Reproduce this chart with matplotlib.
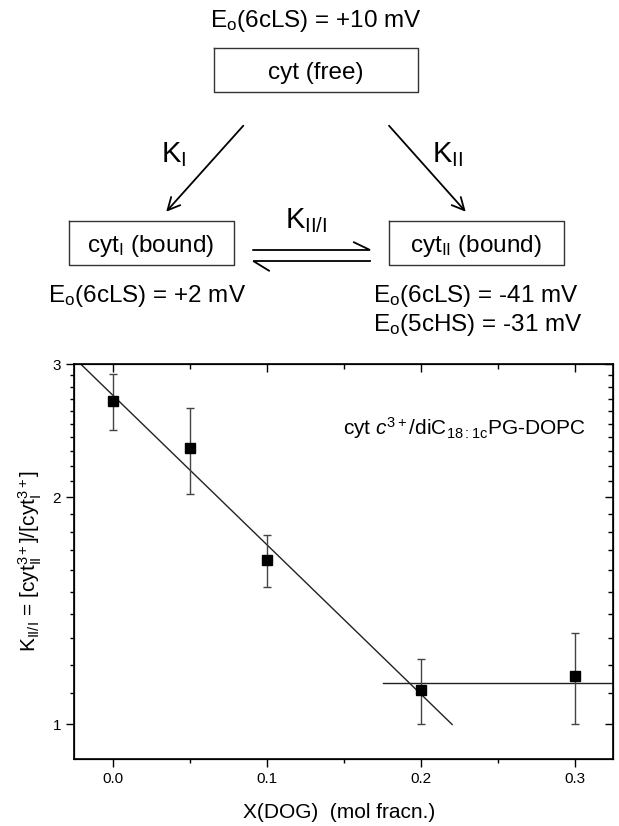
import numpy as np
import matplotlib
matplotlib.use("Agg")
import matplotlib.pyplot as plt
from matplotlib.ticker import NullFormatter

plt.rcParams["font.family"] = ["Liberation Sans", "DejaVu Sans"]
plt.rcParams["mathtext.fontset"] = "custom"
plt.rcParams["mathtext.rm"] = "Liberation Sans"
plt.rcParams["mathtext.it"] = "Liberation Sans:italic"
plt.rcParams["mathtext.default"] = "regular"

# K_II/I vs DOG mole fraction
x_dog = [0.0, 0.05, 0.1, 0.2, 0.3]
k_ratio = [2.683, 2.322, 1.652, 1.111, 1.160]
k_err = [0.225, 0.30, 0.13, 0.11, 0.16]

# linear fit in log10(K) below the break, plateau above it
fit_a = 2.73
fit_b = -1.98
fit_range = [-0.0207, 0.2203]
plateau_k = 1.135
plateau_range = [0.1753, 0.325]

x_ticks = [0.0, 0.1, 0.2, 0.3]
x_tick_labels = ["0.0", "0.1", "0.2", "0.3"]
x_minor = [0.05, 0.15, 0.25]
y_ticks = [1, 2, 3]
y_tick_labels = ["1", "2", "3"]
y_minor = [1.1, 1.2, 1.3, 1.4, 1.5, 1.6, 1.7, 1.8, 1.9,
           2.1, 2.2, 2.3, 2.4, 2.5, 2.6, 2.7, 2.8, 2.9]

fig = plt.figure(figsize=(6.19, 8.26), dpi=100)

# ---- reaction scheme (pixel coordinates, y down) ----
sch = fig.add_axes([0, 0, 1, 1])
sch.set_xlim(0, 619)
sch.set_ylim(826, 0)
sch.axis("off")

txt = dict(fontsize=17.5, color="black")
box_lw = 1.0
box_col = "#333333"


def draw_box(x0, x1, y0, y1):
    sch.plot([x0, x1, x1, x0, x0], [y0, y0, y1, y1, y0], color=box_col, lw=box_lw)


sch.text(315.6, 27.3, r"E$_{o}$(6cLS) = +10 mV", ha="center", va="baseline", **txt)
draw_box(214, 417.8, 48.3, 92.3)
sch.text(316, 79, "cyt (free)", ha="center", va="baseline", **txt)

arrow = dict(arrowstyle="->", color="black", lw=1.3, mutation_scale=22,
             shrinkA=0, shrinkB=0)
sch.annotate("", xy=(166.2, 211.7), xytext=(243.3, 125.7), arrowprops=arrow)
sch.annotate("", xy=(465.7, 211.7), xytext=(389, 125.7), arrowprops=arrow)
sch.text(174, 161.7, r"K$_{I}$", ha="center", va="baseline", fontsize=21)
sch.text(447.7, 161.7, r"K$_{II}$", ha="center", va="baseline", fontsize=21)

draw_box(68.5, 233.8, 221, 265)
sch.text(150.8, 252.3, r"cyt$_{I}$ (bound)", ha="center", va="baseline", **txt)
draw_box(388.5, 563.5, 221, 265)
sch.text(475.8, 252.3, r"cyt$_{II}$ (bound)", ha="center", va="baseline", **txt)

# equilibrium harpoons
sch.plot([253.2, 370, 354], [250, 250, 242.3], color="black", lw=1.3,
         solid_joinstyle="miter")
sch.plot([269, 253.2, 370], [270.7, 261, 261], color="black", lw=1.3,
         solid_joinstyle="miter")
sch.text(306, 228.3, r"K$_{II/I}$", ha="center", va="baseline", fontsize=21)

sch.text(47.5, 301.7, r"E$_{o}$(6cLS) = +2 mV", ha="left", va="baseline", **txt)
sch.text(373, 301.7, r"E$_{o}$(6cLS) = -41 mV", ha="left", va="baseline", **txt)
sch.text(373, 331, r"E$_{o}$(5cHS) = -31 mV", ha="left", va="baseline", **txt)

# ---- K_II/I plot ----
ax = fig.add_axes([0.120, 0.0811, 0.871, 0.4779])
ax.errorbar(x_dog, k_ratio, yerr=k_err, fmt="s", color="black",
            markersize=6.5, ecolor="#444444", elinewidth=1.0,
            capsize=3.2, capthick=1.0, zorder=3)

xf = np.linspace(fit_range[0], fit_range[1], 50)
ax.plot(xf, fit_a * 10 ** (fit_b * xf), color="#222222", lw=1.0)
ax.plot(plateau_range, [plateau_k, plateau_k], color="#222222", lw=1.0)

ax.set_yscale("log")
ax.set_xlim(-0.025, 0.325)
ax.set_ylim(0.9, 3)
ax.set_xticks(x_ticks, x_tick_labels)
ax.set_xticks(x_minor, minor=True)
ax.set_yticks(y_ticks, y_tick_labels)
ax.set_yticks(y_minor, minor=True)
ax.yaxis.set_minor_formatter(NullFormatter())
ax.tick_params(which="major", direction="out", length=5.5, width=1,
               labelsize=11, pad=4, top=False, right=False)
ax.tick_params(which="minor", direction="out", length=3, width=1,
               top=False, right=False)
for s in ax.spines.values():
    s.set_linewidth(1.2)

# inward ticks on the top and right edges
ax_top = ax.twiny()
ax_top.set_xlim(ax.get_xlim())
ax_top.set_xticks(x_ticks)
ax_top.set_xticks(x_minor, minor=True)
ax_top.tick_params(which="major", direction="in", length=5.8, width=1,
                   labeltop=False)
ax_top.tick_params(which="minor", direction="in", length=3.6, width=1)

ax_r = ax.twinx()
ax_r.set_yscale("log")
ax_r.set_ylim(ax.get_ylim())
ax_r.set_yticks(y_ticks)
ax_r.set_yticks(y_minor, minor=True)
ax_r.yaxis.set_major_formatter(NullFormatter())
ax_r.yaxis.set_minor_formatter(NullFormatter())
ax_r.tick_params(which="major", direction="in", length=5.8, width=1)
ax_r.tick_params(which="minor", direction="in", length=3.6, width=1)

ax.text(0.9486, 0.8386, r"cyt $\mathit{c}^{3+}$/diC$_{18:1c}$PG-DOPC",
        transform=ax.transAxes, ha="right", va="center", fontsize=15)

fig.text(339 / 619, 1 - 812.7 / 826, "X(DOG)  (mol fracn.)",
         ha="center", va="center", fontsize=15)
fig.text(30 / 619, 1 - 561.5 / 826,
         r"K$_{II/I}$ = [cyt$_{II}^{3+}$]/[cyt$_{I}^{3+}$]",
         ha="center", va="center", rotation=90, fontsize=15)

fig.savefig("out.png", dpi=100)
